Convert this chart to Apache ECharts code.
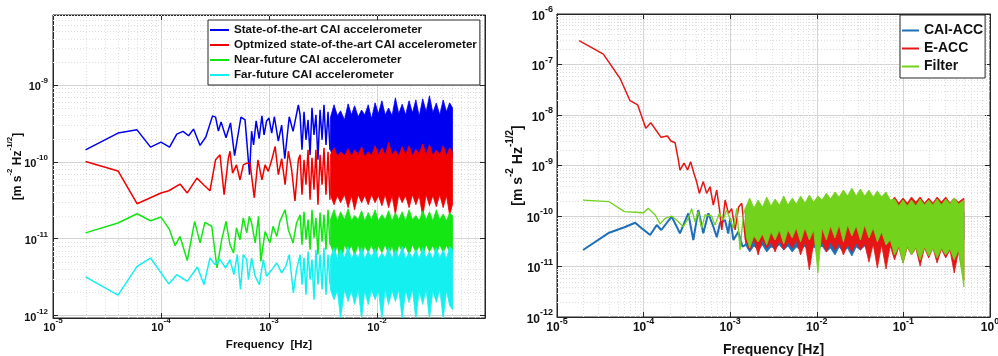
<!DOCTYPE html>
<html><head><meta charset="utf-8">
<script src="https://cdn.jsdelivr.net/npm/echarts@6/dist/echarts.min.js"></script>
<style>html,body{margin:0;padding:0;background:#fff}#c{width:998px;height:356px}</style>
</head><body><div id="c"></div>
<script>
// ---------------- LEFT PANEL DATA ----------------
const legendLeft = ['State-of-the-art CAI accelerometer','Optmized state-of-the-art CAI accelerometer','Near-future CAI accelerometer','Far-future CAI accelerometer'];

const blueLineL = [[2e-5,1.43e-10],[4e-5,2.36e-10],[6e-5,2.6e-10],[8e-5,1.55e-10],[1e-4,1.8e-10],[1.2e-4,1.55e-10],[1.4e-4,2.29e-10],[1.6e-4,2.48e-10],[1.8e-4,2.18e-10],[2e-4,2.66e-10],[2.3e-4,1.63e-10],[2.6e-4,2.1e-10],[3e-4,3.95e-10],[3.2e-4,3.8e-10],[3.4e-4,2.5e-10],[3.6e-4,3.3e-10],[4e-4,2.05e-10],[4.4e-4,3.2e-10],[4.8e-4,1.2e-10],[5.5e-4,3.8e-10],[6e-4,3.5e-10],[6.6e-4,6.8e-11],[6.9e-4,2.5e-10],[7.2e-4,1.66e-10],[7.6e-4,3.4e-10],[8.1e-4,2.0e-10],[8.6e-4,3.95e-10],[9e-4,2.24e-10],[9.5e-4,3.4e-10],[1.0e-3,3.7e-10],[1.06e-3,2.35e-10],[1.12e-3,3.85e-10],[1.22e-3,1.85e-10],[1.31e-3,3.0e-10],[1.4e-3,1.1e-10],[1.54e-3,3.85e-10],[1.67e-3,2.48e-10],[1.87e-3,5.5e-10],[1.94e-3,4.07e-10],[2.02e-3,1.43e-10],[2.11e-3,4.46e-10],[2.2e-3,1.93e-10],[2.3e-3,3.51e-10],[2.4e-3,1.23e-10],[2.5e-3,5.03e-10],[2.61e-3,2.24e-10],[2.72e-3,4.07e-10],[2.84e-3,1.06e-10],[2.97e-3,4.74e-10],[3.1e-3,1.93e-10],[3.23e-3,5.5e-10],[3.37e-3,1.66e-10],[3.52e-3,4.46e-10],[3.67e-3,1.43e-10]];

const redLineL = [[2e-5,1.01e-10],[4e-5,7.6e-11],[6e-5,2.85e-11],[1e-4,3.93e-11],[1.18e-4,4.2e-11],[1.5e-4,5.13e-11],[1.75e-4,3.93e-11],[2.15e-4,6.13e-11],[2.48e-4,5.03e-11],[2.84e-4,4.2e-11],[3.2e-4,1.06e-10],[3.52e-4,1.23e-10],[3.84e-4,3.73e-11],[4.2e-4,1.1e-10],[4.35e-4,1.37e-10],[4.6e-4,7.1e-11],[5.0e-4,9.1e-11],[5.39e-4,5.8e-11],[5.78e-4,9.1e-11],[6.22e-4,9.6e-11],[6.67e-4,9.6e-11],[7.31e-4,3.4e-11],[7.9e-4,1.06e-10],[8.6e-4,5.8e-11],[9.2e-4,9.1e-11],[9.85e-4,7.5e-11],[1.06e-3,1.06e-10],[1.14e-3,1.58e-10],[1.22e-3,6.78e-11],[1.31e-3,1.1e-10],[1.41e-3,5.03e-11],[1.51e-3,1.37e-10],[1.62e-3,7.9e-11],[1.74e-3,3.1e-11],[1.87e-3,1.06e-10],[1.94e-3,1.23e-10],[2.02e-3,3.73e-11],[2.11e-3,1.06e-10],[2.2e-3,5.03e-11],[2.3e-3,1.43e-10],[2.4e-3,3.21e-11],[2.5e-3,1.13e-10],[2.61e-3,4.33e-11],[2.72e-3,1.43e-10],[2.84e-3,2.76e-11],[2.97e-3,1.23e-10],[3.1e-3,5.03e-11],[3.23e-3,1.52e-10],[3.37e-3,3.73e-11],[3.52e-3,1.35e-10],[3.67e-3,3.21e-11]];

const greenLineL = [[2e-5,1.19e-11],[4e-5,1.6e-11],[6e-5,2.11e-11],[8e-5,1.71e-11],[1e-4,1.91e-11],[1.2e-4,1.31e-11],[1.35e-4,8.1e-12],[1.5e-4,1.07e-11],[1.75e-4,5.2e-12],[2.05e-4,1.68e-11],[2.3e-4,8.8e-12],[2.55e-4,1.63e-11],[2.95e-4,1.45e-11],[3.3e-4,4.16e-12],[3.65e-4,9.7e-12],[4e-4,1.68e-11],[4.35e-4,8.36e-12],[4.7e-4,6.5e-12],[5e-4,1.38e-11],[5.39e-4,9.7e-12],[5.78e-4,1.86e-11],[6.22e-4,1.19e-11],[6.57e-4,1.95e-11],[6.9e-4,1.6e-11],[7.45e-4,8.8e-12],[8.0e-4,1.95e-11],[8.4e-4,5.07e-12],[9.2e-4,1.24e-11],[1.02e-3,8.8e-12],[1.09e-3,1.45e-11],[1.18e-3,1.07e-11],[1.26e-3,1.68e-11],[1.41e-3,2.38e-11],[1.51e-3,1.31e-11],[1.67e-3,8.8e-12],[1.8e-3,1.6e-11],[1.94e-3,2.05e-11],[2.02e-3,8.36e-12],[2.11e-3,2.24e-11],[2.2e-3,9.71e-12],[2.3e-3,1.77e-11],[2.4e-3,7.19e-12],[2.5e-3,2.38e-11],[2.61e-3,1.03e-11],[2.72e-3,1.87e-11],[2.84e-3,6.2e-12],[2.97e-3,2.18e-11],[3.1e-3,9.15e-12],[3.23e-3,2.05e-11],[3.37e-3,7.19e-12],[3.52e-3,2.38e-11],[3.67e-3,8.36e-12]];

const cyanLineL = [[2e-5,3.18e-12],[4e-5,1.84e-12],[6e-5,4.37e-12],[8e-5,5.6e-12],[1.18e-4,2.58e-12],[1.4e-4,3.4e-12],[1.75e-4,2.79e-12],[2.17e-4,4.28e-12],[2.5e-4,2.53e-12],[2.84e-4,5.6e-12],[3.16e-4,4.6e-12],[3.52e-4,5.34e-12],[3.97e-4,4.16e-12],[4.35e-4,5.34e-12],[4.73e-4,3.41e-12],[5.08e-4,6.2e-12],[5.45e-4,2.18e-12],[5.78e-4,6.2e-12],[6.22e-4,5.34e-12],[6.44e-4,2.94e-12],[6.9e-4,5.6e-12],[7.45e-4,3.24e-12],[8.15e-4,2.53e-12],[8.85e-4,5.34e-12],[9.5e-4,3.24e-12],[1.06e-3,3.96e-12],[1.18e-3,4.83e-12],[1.31e-3,3.59e-12],[1.43e-3,4.37e-12],[1.54e-3,6.2e-12],[1.68e-3,1.97e-12],[1.8e-3,3.96e-12],[1.94e-3,6.2e-12],[2.02e-3,2.53e-12],[2.11e-3,5.66e-12],[2.2e-3,1.87e-12],[2.3e-3,6.78e-12],[2.4e-3,2.94e-12],[2.5e-3,5.34e-12],[2.61e-3,1.61e-12],[2.72e-3,7.19e-12],[2.84e-3,2.53e-12],[2.97e-3,6.2e-12],[3.1e-3,2.18e-12],[3.23e-3,7.64e-12],[3.37e-3,1.87e-12],[3.52e-3,6.2e-12],[3.67e-3,2.53e-12]];

// dense high-frequency part: upper / lower envelopes
const freqBandL = [3.7e-3,4.0e-3,4.3e-3,4.6e-3,5.0e-3,5.4e-3,5.8e-3,6.2e-3,6.7e-3,7.2e-3,7.7e-3,8.3e-3,8.9e-3,9.6e-3,1.03e-2,1.11e-2,1.19e-2,1.28e-2,1.38e-2,1.48e-2,1.59e-2,1.71e-2,1.84e-2,1.98e-2,2.13e-2,2.29e-2,2.46e-2,2.65e-2,2.85e-2,3.06e-2,3.29e-2,3.54e-2,3.81e-2,4.1e-2,4.4e-2,4.7e-2,5.0e-2];
const blueTopL = [3.73e-10,5.5e-10,3.96e-10,4.6e-10,3.5e-10,5.66e-10,4.07e-10,5.34e-10,3.84e-10,4.7e-10,4.07e-10,5.5e-10,3.6e-10,5.84e-10,4.2e-10,6.2e-10,4.07e-10,5.0e-10,3.96e-10,6.78e-10,4.2e-10,5.6e-10,4.07e-10,6.2e-10,4.33e-10,6.38e-10,3.9e-10,6.58e-10,4.46e-10,7.19e-10,4.33e-10,5.8e-10,4.07e-10,6.38e-10,4.46e-10,5.84e-10,5.03e-10];
const blueBotL = [1.43e-10,1.06e-10,1.23e-10,8.36e-11,1.13e-10,6.58e-11,1.23e-10,1.06e-10,1.13e-10,1.13e-10,1.13e-10,1.13e-10,1.13e-10,1.13e-10,1.13e-10,1.13e-10,1.13e-10,1.13e-10,1.13e-10,1.13e-10,1.13e-10,1.13e-10,1.13e-10,1.13e-10,1.13e-10,1.13e-10,1.13e-10,1.13e-10,1.13e-10,1.13e-10,1.13e-10,1.13e-10,1.13e-10,1.13e-10,1.13e-10,1.13e-10,1.13e-10];
const redTopL = [1.23e-10,1.52e-10,1.16e-10,1.35e-10,1.2e-10,1.48e-10,1.16e-10,1.43e-10,1.23e-10,1.57e-10,1.16e-10,1.35e-10,1.2e-10,1.61e-10,1.23e-10,1.52e-10,1.2e-10,1.77e-10,1.23e-10,1.4e-10,1.2e-10,1.57e-10,1.23e-10,1.61e-10,1.2e-10,1.45e-10,1.27e-10,1.71e-10,1.23e-10,1.66e-10,1.2e-10,1.42e-10,1.23e-10,1.61e-10,1.2e-10,1.52e-10,1.35e-10];
const redBotL = [3.73e-11,2.76e-11,3.62e-11,2.94e-11,3.73e-11,2.53e-11,3.62e-11,2.38e-11,3.73e-11,2.94e-11,3.62e-11,2.76e-11,3.73e-11,2.94e-11,3.62e-11,2.68e-11,3.73e-11,2.53e-11,3.62e-11,2.05e-11,3.73e-11,2.94e-11,3.62e-11,2.53e-11,3.73e-11,2.76e-11,3.62e-11,1.93e-11,3.73e-11,2.68e-11,3.62e-11,2.6e-11,3.73e-11,2.53e-11,3.62e-11,2.05e-11,2.76e-11];
const greenTopL = [1.77e-11,2.38e-11,1.71e-11,2.24e-11,1.77e-11,2.45e-11,1.71e-11,2.0e-11,1.77e-11,2.31e-11,1.71e-11,2.18e-11,1.77e-11,2.38e-11,1.71e-11,2.05e-11,1.77e-11,2.31e-11,1.71e-11,2.18e-11,1.77e-11,2.24e-11,1.71e-11,2.38e-11,1.77e-11,2.0e-11,1.71e-11,2.31e-11,1.77e-11,2.24e-11,1.71e-11,2.38e-11,1.77e-11,2.1e-11,1.71e-11,2.18e-11,1.99e-11];
const greenBotL = [8.36e-12,6.2e-12,8.11e-12,4.33e-12,8.36e-12,6.78e-12,8.11e-12,6.01e-12,8.36e-12,5.66e-12,8.11e-12,6.58e-12,8.36e-12,6.01e-12,8.11e-12,6.58e-12,8.36e-12,6.2e-12,8.11e-12,5.34e-12,8.36e-12,6.78e-12,8.11e-12,6.2e-12,8.36e-12,6.58e-12,8.11e-12,5.84e-12,8.36e-12,6.78e-12,8.11e-12,6.2e-12,8.36e-12,6.58e-12,8.11e-12,6.78e-12,6.58e-12];
const cyanTopL = [5.66e-12,7.64e-12,5.5e-12,7.19e-12,5.66e-12,7.87e-12,5.5e-12,6.6e-12,5.66e-12,7.64e-12,5.5e-12,6.98e-12,5.66e-12,7.42e-12,5.5e-12,6.5e-12,5.66e-12,7.64e-12,5.5e-12,7.19e-12,5.66e-12,7.87e-12,5.5e-12,6.7e-12,5.66e-12,7.19e-12,5.5e-12,7.64e-12,5.66e-12,6.8e-12,5.5e-12,7.64e-12,5.66e-12,7.19e-12,5.5e-12,7.87e-12,7.19e-12];
const cyanBotL = [2.18e-12,1.61e-12,2.11e-12,9e-13,2.18e-12,1.52e-12,2.11e-12,1.39e-12,2.18e-12,9e-13,2.11e-12,1.39e-12,2.18e-12,1.61e-12,2.11e-12,9e-13,2.18e-12,1.39e-12,2.11e-12,1.52e-12,2.18e-12,9e-13,2.11e-12,1.48e-12,2.18e-12,9e-13,2.11e-12,1.39e-12,2.18e-12,9e-13,2.11e-12,1.48e-12,2.18e-12,9e-13,2.11e-12,1.35e-12,1.2e-12];

// ---------------- RIGHT PANEL DATA ----------------
const legendRight = ['CAI-ACC','E-ACC','Filter'];

const caiLineR = [[2e-5,2.12e-11],[4e-5,4.67e-11],[6e-5,6e-11],[8e-5,7.35e-11],[9.5e-5,5.7e-11],[1.19e-4,4.2e-11],[1.42e-4,6.64e-11],[1.6e-4,5.28e-11],[2.11e-4,9.7e-11],[2.63e-4,4.54e-11],[3.28e-4,1.13e-10],[3.75e-4,3.35e-11],[4.28e-4,1.31e-10],[4.89e-4,4.54e-11],[5.59e-4,1.13e-10],[6.38e-4,6.2e-11],[7.0e-4,3.79e-11],[7.62e-4,7.2e-11],[8.71e-4,8.34e-11],[9.5e-4,4.5e-11],[1.0e-3,9.0e-11],[1.09e-3,3.35e-11],[1.24e-3,4.89e-11],[1.39e-3,2.47e-11],[1.5e-3,2.67e-11]];

const eaccLineR = [[1.8e-5,2.96e-7],[3.43e-5,1.61e-7],[5.34e-5,5.33e-8],[6.97e-5,1.92e-8],[8.55e-5,1.58e-8],[1.06e-4,5.46e-9],[1.21e-4,7.03e-9],[1.59e-4,3.61e-9],[1.88e-4,3.84e-9],[2.07e-4,3.05e-9],[2.31e-4,2.83e-9],[2.52e-4,1.28e-9],[2.63e-4,8.1e-10],[2.93e-4,1.11e-9],[3.22e-4,8.15e-10],[3.49e-4,1.19e-9],[3.81e-4,7.0e-10],[4.09e-4,4.8e-10],[4.4e-4,2.8e-10],[4.89e-4,4.8e-10],[5.35e-4,2.8e-10],[5.85e-4,3.8e-10],[6.38e-4,1.65e-10],[6.99e-4,3.27e-10],[7.5e-4,1.4e-10],[7.99e-4,5.3e-11],[8.74e-4,2.07e-10],[9.55e-4,1.13e-10],[1.04e-3,1.4e-10],[1.14e-3,5.3e-11],[1.25e-3,1.5e-10],[1.36e-3,1.78e-10],[1.5e-3,3.35e-11]];

const filtLineR = [[2e-5,2.07e-10],[4e-5,1.92e-10],[6e-5,1.22e-10],[1e-4,1.16e-10],[1.13e-4,1.42e-10],[1.36e-4,1.05e-10],[1.55e-4,6.95e-11],[1.77e-4,9.0e-11],[2.11e-4,1.0e-10],[2.52e-4,7.7e-11],[2.87e-4,6.1e-11],[3.28e-4,9.0e-11],[3.59e-4,1.4e-10],[3.92e-4,7.7e-11],[4.28e-4,1.22e-10],[4.68e-4,5.7e-11],[5.12e-4,1.05e-10],[6.1e-4,1.0e-10],[6.66e-4,6.6e-11],[7.5e-4,1.13e-10],[8.3e-4,8.3e-11],[9.1e-4,1.31e-10],[1.09e-3,5.7e-11],[1.19e-3,1.42e-10],[1.3e-3,2.12e-11],[1.42e-3,1.05e-10],[1.5e-3,1.44e-10]];

const freqBandR = [1.5e-3,1.68e-3,1.88e-3,2.1e-3,2.36e-3,2.64e-3,2.96e-3,3.3e-3,3.7e-3,4.15e-3,4.65e-3,5.2e-3,5.8e-3,6.5e-3,7.3e-3,8.2e-3,9.2e-3,1.03e-2,1.15e-2,1.29e-2,1.44e-2,1.62e-2,1.81e-2,2.03e-2,2.27e-2,2.54e-2,2.85e-2,3.19e-2,3.57e-2,4.0e-2,4.48e-2,5.0e-2,5.6e-2,6.3e-2,7.05e-2,7.9e-2,8.85e-2,9.9e-2,0.111,0.124,0.139,0.156,0.175,0.196,0.219,0.245,0.275,0.308,0.345,0.386,0.432,0.5];
const caiTopR = [1.2e-10,1.2e-10,1.2e-10,1.2e-10,1.2e-10,1.2e-10,1.2e-10,1.2e-10,1.2e-10,1.2e-10,1.2e-10,1.2e-10,1.2e-10,1.2e-10,1.2e-10,1.2e-10,1.2e-10,1.2e-10,1.2e-10,1.2e-10,1.2e-10,1.2e-10,1.2e-10,1.2e-10,1.2e-10,1.2e-10,1.2e-10,1.2e-10,1.2e-10,1.2e-10,1.2e-10,1.2e-10,1.2e-10,1.2e-10,1.2e-10,1.2e-10,1.2e-10,1.2e-10,1.2e-10,1.2e-10,1.2e-10,1.2e-10,1.2e-10,1.2e-10,1.2e-10,1.2e-10,1.2e-10,1.2e-10,1.2e-10,1.2e-10,1.2e-10,1.2e-10];
const caiBotR = [2.67e-11,1.94e-11,2.55e-11,2.12e-11,2.67e-11,1.94e-11,2.43e-11,2.32e-11,2.67e-11,2.12e-11,2.55e-11,1.94e-11,2.43e-11,2.12e-11,2.55e-11,1.85e-11,2.43e-11,2.12e-11,2.55e-11,1.94e-11,2.32e-11,1.69e-11,2.43e-11,1.94e-11,2.32e-11,1.61e-11,2.43e-11,2.12e-11,2.55e-11,1.94e-11,2.67e-11,2.12e-11,2.79e-11,2.32e-11,3.35e-11,3.35e-11,3.35e-11,3.35e-11,3.35e-11,3.35e-11,3.35e-11,3.35e-11,3.35e-11,3.35e-11,3.35e-11,3.35e-11,3.35e-11,3.35e-11,3.35e-11,3.35e-11,3.35e-11,3.35e-11];
const eaccTopR = [1.31e-10,1.31e-10,1.31e-10,1.31e-10,1.31e-10,1.31e-10,1.31e-10,1.31e-10,1.31e-10,1.31e-10,1.31e-10,1.31e-10,1.31e-10,1.31e-10,1.31e-10,1.31e-10,1.31e-10,1.31e-10,1.31e-10,1.31e-10,1.31e-10,1.31e-10,1.31e-10,1.31e-10,1.31e-10,1.31e-10,1.31e-10,1.31e-10,1.31e-10,1.31e-10,1.31e-10,1.31e-10,1.31e-10,1.31e-10,1.81e-10,2.38e-10,1.81e-10,2.27e-10,1.81e-10,2.38e-10,1.89e-10,2.38e-10,1.81e-10,2.27e-10,1.81e-10,2.38e-10,1.89e-10,2.38e-10,1.81e-10,2.27e-10,1.89e-10,2.27e-10];
const eaccBotR = [3.35e-11,2.12e-11,3.67e-11,1.69e-11,3.35e-11,2.32e-11,3.06e-11,1.94e-11,3.35e-11,2.12e-11,3.06e-11,2.32e-11,3.35e-11,1.69e-11,3.06e-11,8.53e-12,2.92e-11,2.12e-11,3.06e-11,1.94e-11,3.06e-11,2.12e-11,2.92e-11,1.69e-11,2.79e-11,1.94e-11,2.92e-11,2.12e-11,2.79e-11,1.23e-11,2.79e-11,9.34e-12,2.67e-11,8.92e-12,2.55e-11,1.35e-11,2.43e-11,1.17e-11,2.43e-11,1.69e-11,2.32e-11,1.02e-11,2.32e-11,1.47e-11,2.32e-11,1.17e-11,2.22e-11,1.47e-11,2.12e-11,7.43e-12,1.94e-11,5.4e-12];
const filtTopR = [1.44e-10,2.27e-10,1.44e-10,2.07e-10,1.51e-10,2.38e-10,1.58e-10,2.17e-10,1.65e-10,2.49e-10,1.65e-10,2.27e-10,1.73e-10,2.49e-10,1.81e-10,2.6e-10,1.89e-10,2.49e-10,2.07e-10,2.85e-10,2.17e-10,2.99e-10,2.38e-10,3.27e-10,2.49e-10,3.58e-10,2.49e-10,3.42e-10,2.49e-10,3.27e-10,2.38e-10,3.13e-10,2.38e-10,2.99e-10,2.07e-10,2.17e-10,1.58e-10,2.07e-10,1.58e-10,2.07e-10,1.58e-10,2.17e-10,1.65e-10,2.07e-10,1.65e-10,2.17e-10,1.65e-10,2.17e-10,1.73e-10,2.27e-10,1.73e-10,2.07e-10];
const filtBotR = [4.2e-11,2.32e-11,4.02e-11,3.06e-11,4.4e-11,2.67e-11,4.82e-11,3.35e-11,5.28e-11,2.79e-11,5.28e-11,3.67e-11,5.79e-11,3.06e-11,5.79e-11,3.35e-11,5.28e-11,7.43e-12,5.79e-11,3.35e-11,6.34e-11,3.67e-11,6.64e-11,3.06e-11,6.64e-11,4.02e-11,6.34e-11,3.35e-11,6.64e-11,3.67e-11,5.79e-11,3.06e-11,4.82e-11,2.67e-11,3.35e-11,1.69e-11,2.55e-11,1.17e-11,2.55e-11,1.69e-11,2.43e-11,1.35e-11,2.43e-11,1.61e-11,2.32e-11,1.47e-11,2.32e-11,1.69e-11,2.22e-11,1.35e-11,2.12e-11,3.93e-12];

// ---------------- CHART ----------------
const FONT = '"Liberation Sans", Arial, Helvetica, sans-serif';
const INK = '#111';
const AX = '#262626';
const chart = echarts.init(document.getElementById('c'), null, {renderer: 'canvas'});

function supLabel(size, supSize, hideAbove, extra) {
  return Object.assign({
    formatter: v => (hideAbove && v > hideAbove) ? '' : '{b|10}{s|' + Math.round(Math.log10(v)) + '}',
    rich: {
      b: {fontSize: size, fontWeight: 'bold', fontFamily: FONT, color: INK, verticalAlign: 'bottom', lineHeight: size + 5},
      s: {fontSize: supSize, fontWeight: 'bold', fontFamily: FONT, color: INK, verticalAlign: 'top', lineHeight: size + 5}
    }
  }, extra);
}
function minorValues(e0, e1, lo, hi) {
  const out = [];
  for (let e = e0; e < e1; e++) for (let m = 2; m <= 9; m++) {
    const v = m * Math.pow(10, e);
    if (v > lo && v < hi) out.push(v);
  }
  return out;
}
function mainAxis(gi, min, max, pos, label, name, nameGap, nameSize, isY) {
  return {
    gridIndex: gi, type: 'log', logBase: 10, min, max, position: pos,
    axisLine: {show: true, lineStyle: {color: AX, width: 1}},
    axisTick: {show: true, inside: true, length: 5, lineStyle: {color: AX}},
    splitLine: {show: true, lineStyle: {color: '#d4d4d4', width: 1}},
    axisLabel: label,
    name, nameLocation: 'middle', nameGap, nameRotate: isY ? 90 : 0,
    nameMoveOverlap: isY ? false : undefined,
    nameTextStyle: {fontSize: nameSize, fontWeight: 'bold', fontFamily: FONT, color: INK,
      rich: {n: {fontSize: nameSize, fontWeight: 'bold', fontFamily: FONT, color: INK, verticalAlign: 'bottom', lineHeight: nameSize + 6},
             s: {fontSize: Math.round(nameSize * 0.68), fontWeight: 'bold', fontFamily: FONT, color: INK, verticalAlign: 'top', lineHeight: nameSize + 6}}}
  };
}
function sideAxis(gi, min, max, pos) {
  return {gridIndex: gi, type: 'log', logBase: 10, min, max, position: pos,
    axisLine: {show: true, lineStyle: {color: AX}}, axisTick: {show: true, inside: true, length: 5, lineStyle: {color: AX}},
    axisLabel: {show: false}, splitLine: {show: false}};
}

const LXmin = 1e-5, LXmax = 0.1, LYmin = 9.3e-13, LYmax = 8.1e-9;
const RXmin = 1e-5, RXmax = 1, RYmin = 1e-12, RYmax = 1e-6;
const yName = '{n|[m s}{s|-2}{n| Hz}{s|-1/2}{n|]}';

function lineSeries(name, axis, data, color, width) {
  return {type: 'line', name, xAxisIndex: axis, yAxisIndex: axis, data, color, showSymbol: false, symbol: 'none',
    lineStyle: {color, width}, silent: true, animation: false, z: 2};
}
function bandSeries(name, axis, freq, top, bot, color) {
  const n = Math.min(freq.length, top.length, bot.length);
  const pts = [];
  for (let i = 0; i < n; i++) pts.push([freq[i], top[i]]);
  for (let i = n - 1; i >= 0; i--) pts.push([freq[i], bot[i]]);
  return {type: 'custom', name, xAxisIndex: axis, yAxisIndex: axis, data: pts, clip: true, silent: true, animation: false, z: 2,
    renderItem(params, api) {
      if (params.dataIndex !== 0) return null;
      return {type: 'polygon', shape: {points: pts.map(p => api.coord(p))}, style: {fill: color, stroke: color, lineWidth: 0.8}};
    }};
}
// dotted minor grid (2..9 of every decade), placed through the axes' own scales
function minorGrid(axis, xmin, xmax, ymin, ymax, xs, ys) {
  return {type: 'custom', name: 'minorGrid' + axis, xAxisIndex: axis, yAxisIndex: axis, data: [[xmin, ymin]],
    silent: true, animation: false, z: 1, clip: true,
    renderItem(params, api) {
      const kids = [];
      const st = {stroke: '#dedede', lineWidth: 1, lineDash: [1, 2]};
      xs.forEach(v => {
        const a = api.coord([v, ymin]), b = api.coord([v, ymax]);
        const x = Math.round(a[0]) + 0.5;
        kids.push({type: 'line', shape: {x1: x, y1: a[1], x2: x, y2: b[1]}, style: st});
      });
      ys.forEach(v => {
        const a = api.coord([xmin, v]), b = api.coord([xmax, v]);
        const y = Math.round(a[1]) + 0.5;
        kids.push({type: 'line', shape: {x1: a[0], y1: y, x2: b[0], y2: y}, style: st});
      });
      return {type: 'group', children: kids};
    }};
}

const C = {blue: '#0000f0', red: '#f20000', green: '#14e614', cyan: '#14f0f0',
           cai: '#1f6fb8', eacc: '#e41616', filt: '#72d21c'};

const option = {
  animation: false,
  backgroundColor: '#fff',
  grid: [
    {left: 53, top: 15, width: 432, height: 303, show: true, borderColor: AX, borderWidth: 1, backgroundColor: '#fff', containLabel: false, outerBoundsMode: 'none'},
    {left: 557, top: 14, width: 433, height: 303, show: true, borderColor: AX, borderWidth: 1, backgroundColor: '#fff', containLabel: false, outerBoundsMode: 'none'}
  ],
  xAxis: [
    mainAxis(0, LXmin, LXmax, 'bottom', supLabel(11, 8, 0.05, {margin: -1}), 'Frequency  [Hz]', 21, 11.5, false),
    sideAxis(0, LXmin, LXmax, 'top'),
    mainAxis(1, RXmin, RXmax, 'bottom', supLabel(12, 9, 0, {margin: 0}), 'Frequency [Hz]', 26, 14, false),
    sideAxis(1, RXmin, RXmax, 'top')
  ],
  yAxis: [
    mainAxis(0, LYmin, LYmax, 'left', supLabel(11, 8, 0, {margin: 5, showMinLabel: false, showMaxLabel: false}), yName, 29, 12, true),
    sideAxis(0, LYmin, LYmax, 'right'),
    mainAxis(1, RYmin, RYmax, 'left', supLabel(12, 9, 0, {margin: 4}), yName, 32, 14, true),
    sideAxis(1, RYmin, RYmax, 'right')
  ],
  legend: [
    {data: legendLeft, left: 208, top: 20, orient: 'vertical', icon: 'rect', itemWidth: 19, itemHeight: 2, itemGap: 1,
     padding: [3, 3, 3, 2], borderColor: AX, borderWidth: 1, backgroundColor: '#fff', selectedMode: false,
     textStyle: {fontSize: 11.6, fontWeight: 'bold', fontFamily: FONT, color: INK, lineHeight: 14}},
    {data: legendRight, left: 900, top: 15, orient: 'vertical', icon: 'rect', itemWidth: 17, itemHeight: 2, itemGap: 1,
     padding: [7, 2, 3, 2], borderColor: AX, borderWidth: 1, backgroundColor: '#fff', selectedMode: false,
     textStyle: {fontSize: 14, fontWeight: 'bold', fontFamily: FONT, color: INK, lineHeight: 17}}
  ],
  series: [
    minorGrid(0, LXmin, LXmax, LYmin, LYmax, minorValues(-5, -1, LXmin, LXmax), minorValues(-13, -8, LYmin, LYmax)),
    minorGrid(2, RXmin, RXmax, RYmin, RYmax, minorValues(-5, 0, RXmin, RXmax), minorValues(-12, -6, RYmin, RYmax)),
    lineSeries(legendLeft[0], 0, blueLineL, C.blue, 1.5),
    bandSeries('bandBlue', 0, freqBandL, blueTopL, blueBotL, C.blue),
    lineSeries(legendLeft[1], 0, redLineL, C.red, 1.5),
    bandSeries('bandRed', 0, freqBandL, redTopL, redBotL, C.red),
    lineSeries(legendLeft[2], 0, greenLineL, C.green, 1.5),
    bandSeries('bandGreen', 0, freqBandL, greenTopL, greenBotL, C.green),
    lineSeries(legendLeft[3], 0, cyanLineL, C.cyan, 1.5),
    bandSeries('bandCyan', 0, freqBandL, cyanTopL, cyanBotL, C.cyan),
    lineSeries(legendRight[0], 2, caiLineR, C.cai, 2),
    bandSeries('bandCai', 2, freqBandR, caiTopR, caiBotR, C.cai),
    lineSeries(legendRight[1], 2, eaccLineR, C.eacc, 1.5),
    bandSeries('bandEacc', 2, freqBandR, eaccTopR, eaccBotR, C.eacc),
    lineSeries(legendRight[2], 2, filtLineR, C.filt, 1.3),
    bandSeries('bandFilt', 2, freqBandR, filtTopR, filtBotR, C.filt)
  ]
};
chart.setOption(option);
</script>
</body></html>
